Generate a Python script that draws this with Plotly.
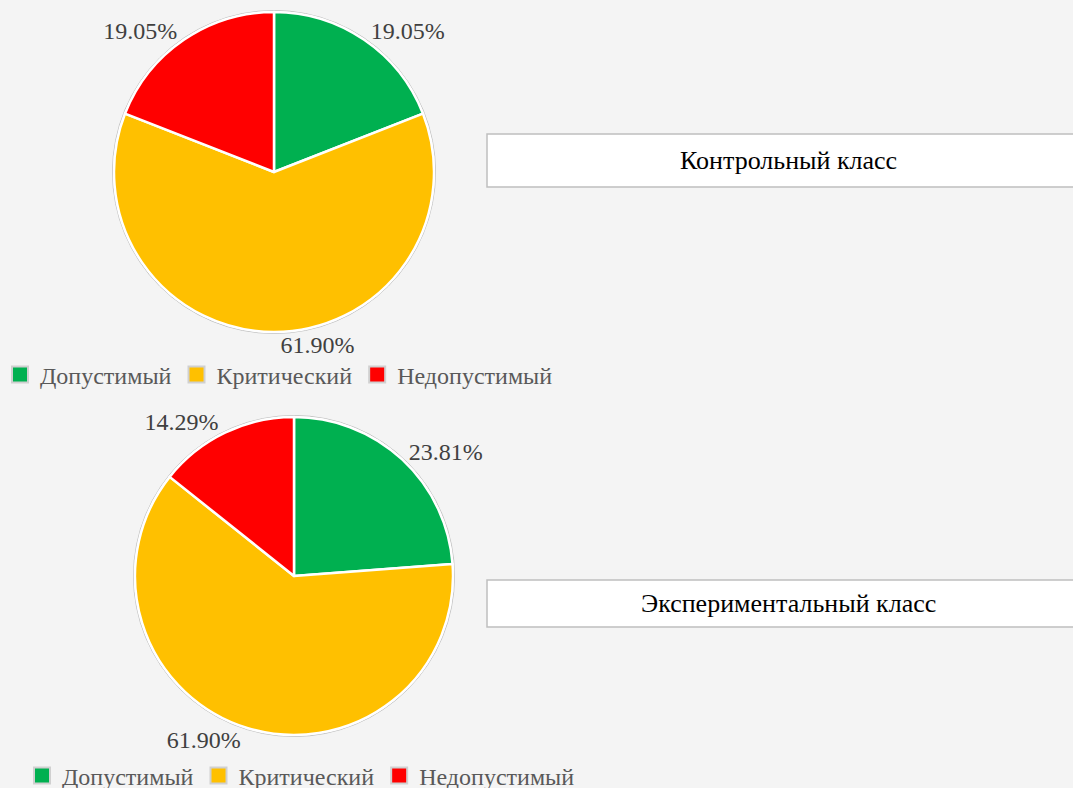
import plotly.graph_objects as go

categories = ["Допустимый", "Критический", "Недопустимый"]
control_values = [4, 13, 4]
experimental_values = [5, 13, 3]
titles = ["Контрольный класс", "Экспериментальный класс"]
colors = ["#00B050", "#FFC000", "#FF0000"]

W, H = 1073, 800   # figure slightly taller than the window so the bottom legend fits in the paper area
FONT = "Liberation Serif, Times New Roman, serif"

def px(x):
    return x / W

def py(y):
    return 1 - y / H

fig = go.Figure()

pies = [
    dict(values=control_values, cx=274, cy=172, r=160, legend="legend"),
    dict(values=experimental_values, cx=294, cy=576, r=159, legend="legend2"),
]

for p in pies:
    fig.add_trace(go.Pie(
        labels=categories,
        values=p["values"],
        sort=False,
        direction="clockwise",
        rotation=0,
        marker=dict(colors=colors, line=dict(color="white", width=2.5)),
        texttemplate="%{percent:.2%}",
        textposition="outside",
        textfont=dict(family=FONT, size=24, color="#404040"),
        domain=dict(x=[px(p["cx"] - p["r"]), px(p["cx"] + p["r"])],
                    y=[py(p["cy"] + p["r"]), py(p["cy"] - p["r"])]),
        showlegend=False,
        hoverinfo="label+value+percent",
    ))
    fig.add_shape(type="circle", xref="paper", yref="paper",
                  x0=px(p["cx"] - p["r"] - 1.5), x1=px(p["cx"] + p["r"] + 1.5),
                  y0=py(p["cy"] + p["r"] + 1.5), y1=py(p["cy"] - p["r"] - 1.5),
                  line=dict(color="#BFBFBF", width=1), layer="below")
    for cat, col in zip(categories, colors):
        fig.add_trace(go.Scatter(
            x=[None], y=[None], mode="markers", name=cat,
            marker=dict(symbol="square", size=16, color=col,
                        line=dict(color="#D0D0D0", width=2)),
            legend=p["legend"], showlegend=True, hoverinfo="skip",
        ))

boxes = [(487, 134, 1080, 187), (487, 580, 1080, 627)]
for (x0, y0, x1, y1), t in zip(boxes, titles):
    fig.add_shape(type="rect", xref="paper", yref="paper",
                  x0=px(x0), x1=px(x1), y0=py(y1), y1=py(y0),
                  fillcolor="white", line=dict(color="#BFBFBF", width=1.5))
    fig.add_annotation(x=px(788), y=py((y0 + y1) / 2), xref="paper", yref="paper",
                       text=t, showarrow=False, xanchor="center", yanchor="middle",
                       font=dict(family=FONT, size=26, color="black"))

legend_style = dict(orientation="h", xanchor="left", yanchor="middle",
                    traceorder="normal",
                    font=dict(family=FONT, size=24, color="#595959"),
                    bgcolor="rgba(0,0,0,0)", itemwidth=30,
                    itemclick=False, itemdoubleclick=False)

fig.update_layout(
    width=W, height=H, autosize=False,
    margin=dict(l=0, r=0, t=0, b=0),
    paper_bgcolor="#F4F4F4",
    plot_bgcolor="rgba(0,0,0,0)",
    xaxis=dict(visible=False),
    yaxis=dict(visible=False),
    legend=dict(x=px(0), y=py(375), **legend_style),
    legend2=dict(x=px(22), y=py(776), **legend_style),
)

fig.write_html("out.html",
               config=dict(displayModeBar=False, responsive=False),
               post_script="document.body.style.margin='0';document.body.style.overflow='hidden';"
                           "document.documentElement.style.overflow='hidden';")
